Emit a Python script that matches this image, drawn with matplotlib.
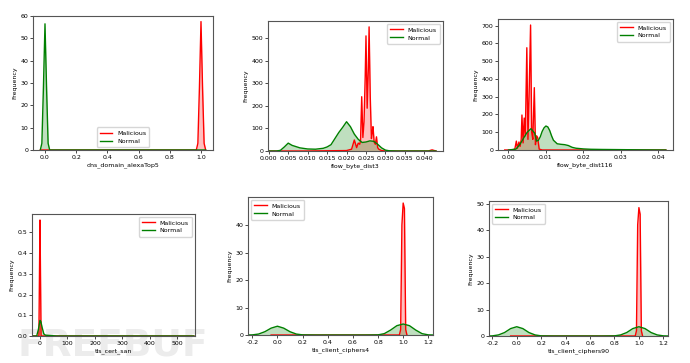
import matplotlib.pyplot as plt

# data
labels = ["Malicious", "Normal"]

# dns_domain_alexaTop5
alexa_mal_x = [-0.03, 0.97, 0.98, 0.99, 1.0, 1.01, 1.02, 1.03]
alexa_mal_y = [0, 0, 3, 28, 57.5, 28, 3, 0]
alexa_nor_x = [-0.03, -0.02, -0.01, 0.0, 0.01, 0.02, 0.03, 1.03]
alexa_nor_y = [0, 3, 28, 56.5, 28, 3, 0, 0]

# flow_byte_dist3
d3_mal_x = [0.000, 0.010, 0.020, 0.0213, 0.0220, 0.0226, 0.0230, 0.0234, 0.0236,
            0.0239, 0.0242, 0.0245, 0.0248, 0.0250, 0.0253, 0.0256, 0.0258, 0.0261,
            0.0264, 0.0266, 0.0268, 0.0271, 0.0274, 0.0277, 0.0280, 0.0283, 0.0290,
            0.0300, 0.0350, 0.0410, 0.0420, 0.0430]
d3_mal_y = [0, 0, 2, 8, 49, 15, 35, 30, 45, 241, 60, 130, 330, 511, 190, 360, 551, 240,
            55, 80, 108, 40, 30, 63, 15, 8, 2, 0, 0, 0, 5, 0]
d3_nor_x = [0.000, 0.002, 0.003, 0.004, 0.005, 0.006, 0.008, 0.010, 0.012, 0.014,
            0.015, 0.016, 0.017, 0.018, 0.019, 0.020, 0.021, 0.022, 0.023, 0.024,
            0.025, 0.026, 0.027, 0.028, 0.029, 0.030, 0.031, 0.033, 0.043]
d3_nor_y = [0, 0, 3, 18, 35, 25, 14, 9, 8, 12, 18, 28, 55, 82, 105, 130, 108, 75, 52,
            38, 40, 45, 43, 30, 14, 4, 1, 0, 0]

# flow_byte_dist116
d116_mal_x = [-0.001, 0.001, 0.0017, 0.0021, 0.0024, 0.0028, 0.0031, 0.0034, 0.0036,
              0.0039, 0.0042, 0.0045, 0.0049, 0.0052, 0.0055, 0.0059, 0.0062, 0.0065,
              0.0069, 0.0072, 0.0075, 0.0078, 0.0082, 0.009, 0.012, 0.042]
d116_mal_y = [0, 0, 5, 50, 10, 45, 20, 60, 197, 40, 180, 80, 576, 60, 300, 704, 100, 60,
              351, 30, 80, 70, 5, 0, 0, 0]
d116_nor_x = [0.000, 0.002, 0.003, 0.004, 0.005, 0.006, 0.007, 0.0075, 0.008, 0.0085,
              0.009, 0.0095, 0.010, 0.0105, 0.011, 0.0115, 0.012, 0.013, 0.014, 0.015,
              0.016, 0.017, 0.018, 0.019, 0.020, 0.022, 0.025, 0.030, 0.035, 0.042]
d116_nor_y = [0, 5, 30, 65, 100, 120, 95, 50, 55, 75, 105, 125, 135, 130, 110, 80, 55,
              35, 32, 30, 25, 15, 10, 8, 6, 4, 3, 2, 1, 0]

# tls_cert_san
san_mal_x = [-30, -4, -2, 0, 2, 4, 560]
san_mal_y = [0, 0, 0.28, 0.56, 0.28, 0, 0]
san_nor_x = [-30, -12, -6, 0, 3, 8, 14, 20, 30, 60, 560]
san_nor_y = [0, 0, 0.03, 0.075, 0.07, 0.04, 0.01, 0.004, 0.003, 0, 0]

# tls_client_ciphers4
c4_mal_x = [-0.05, 0.97, 0.98, 0.99, 1.0, 1.01, 1.02, 1.03]
c4_mal_y = [0, 0, 2, 40, 48, 46, 2, 0]
c4_nor_x = [-0.25, -0.2, -0.15, -0.1, -0.05, 0.0, 0.05, 0.1, 0.15, 0.2, 0.3, 0.7, 0.8,
            0.85, 0.9, 0.95, 1.0, 1.05, 1.1, 1.15, 1.2, 1.25]
c4_nor_y = [0, 0.05, 0.35, 1.2, 2.5, 3.2, 2.5, 1.2, 0.35, 0.05, 0, 0, 0.05, 0.5, 1.8,
            3.4, 4.0, 3.4, 1.8, 0.5, 0.05, 0]

# tls_client_ciphers90
c90_mal_x = [-0.05, 0.97, 0.98, 0.99, 1.0, 1.01, 1.02, 1.03]
c90_mal_y = [0, 0, 2, 42, 48.5, 46, 2, 0]
c90_nor_x = [-0.25, -0.2, -0.15, -0.1, -0.05, 0.0, 0.05, 0.1, 0.15, 0.2, 0.3, 0.7, 0.8,
             0.85, 0.9, 0.95, 1.0, 1.05, 1.1, 1.15, 1.2, 1.25]
c90_nor_y = [0, 0.05, 0.4, 1.3, 2.8, 3.5, 2.8, 1.3, 0.4, 0.05, 0, 0, 0.05, 0.4, 1.3,
             2.8, 3.5, 2.8, 1.3, 0.4, 0.05, 0]

plt.rcParams['font.size'] = 4.5

fig = plt.figure(figsize=(6.9, 3.63), dpi=100)

panels = [
    # rect, name, mal, nor, xlim, ylim, xticks, yticks, legend loc
    ([0.0478, 0.5868, 0.2609, 0.3691], "dns_domain_alexaTop5",
     (alexa_mal_x, alexa_mal_y), (alexa_nor_x, alexa_nor_y),
     (-0.077, 1.077), (0, 60), [0, 0.2, 0.4, 0.6, 0.8, 1.0], range(0, 61, 10), "lower center"),
    ([0.3884, 0.5840, 0.2536, 0.3581], "flow_byte_dist3",
     (d3_mal_x, d3_mal_y), (d3_nor_x, d3_nor_y),
     (-0.0002, 0.0448), (0, 577), [i * 0.005 for i in range(9)], range(0, 501, 100), "upper right"),
    ([0.7217, 0.5868, 0.2536, 0.3609], "flow_byte_dist116",
     (d116_mal_x, d116_mal_y), (d116_nor_x, d116_nor_y),
     (-0.0028, 0.0439), (0, 738), [0, 0.01, 0.02, 0.03, 0.04], range(0, 701, 100), "upper right"),
    ([0.0464, 0.0744, 0.2362, 0.3361], "tls_cert_san",
     (san_mal_x, san_mal_y), (san_nor_x, san_nor_y),
     (-29, 564), (0, 0.589), range(0, 501, 100), [0, 0.1, 0.2, 0.3, 0.4, 0.5], "upper right"),
    ([0.3594, 0.0771, 0.2681, 0.3802], "tls_client_ciphers4",
     (c4_mal_x, c4_mal_y), (c4_nor_x, c4_nor_y),
     (-0.234, 1.237), (0, 50.2), [-0.2, 0, 0.2, 0.4, 0.6, 0.8, 1.0, 1.2], range(0, 41, 10), "upper left"),
    ([0.7087, 0.0744, 0.2594, 0.3719], "tls_client_ciphers90",
     (c90_mal_x, c90_mal_y), (c90_nor_x, c90_nor_y),
     (-0.227, 1.238), (0, 51.0), [-0.2, 0, 0.2, 0.4, 0.6, 0.8, 1.0, 1.2], range(0, 51, 10), "upper left"),
]

fmt = {
    "flow_byte_dist3": "{:.3f}",
    "flow_byte_dist116": "{:.2f}",
    "tls_cert_san": "{:.0f}",
    "dns_domain_alexaTop5": "{:.1f}",
    "tls_client_ciphers4": "{:.1f}",
    "tls_client_ciphers90": "{:.1f}",
}

for rect, name, mal, nor, xlim, ylim, xt, yt, loc in panels:
    ax = fig.add_axes(rect)
    ax.patch.set_alpha(0)  # let the watermark show through
    ax.plot(mal[0], mal[1], color="red", lw=1.0, label=labels[0])
    ax.fill_between(mal[0], mal[1], color="red", alpha=0.25, lw=0)
    ax.plot(nor[0], nor[1], color="green", lw=1.0, label=labels[1])
    ax.fill_between(nor[0], nor[1], color="green", alpha=0.25, lw=0)
    ax.set_xlim(*xlim)
    ax.set_ylim(*ylim)
    ax.set_xticks(list(xt))
    ax.set_xticklabels([fmt[name].format(v) for v in xt])
    ax.set_yticks(list(yt))
    if name == "tls_cert_san":
        ax.set_yticklabels(["{:.1f}".format(v) for v in yt])
    ax.set_xlabel(name, labelpad=1.5)
    ax.set_ylabel("Frequency", labelpad=2)
    ax.tick_params(length=2, width=0.5, pad=1.5)
    for s in ax.spines.values():
        s.set_linewidth(0.8)
        s.set_color("#555555")
    ax.legend(loc=loc, fontsize=4.5, handlelength=2.0, borderpad=0.5, labelspacing=0.4)

# watermark, behind the axes
fig.text(0.026, 0.022, "FREEBUF", fontsize=27, fontweight="bold",
         color="#ececec", zorder=-1)

fig.savefig("out.png", dpi=100)
